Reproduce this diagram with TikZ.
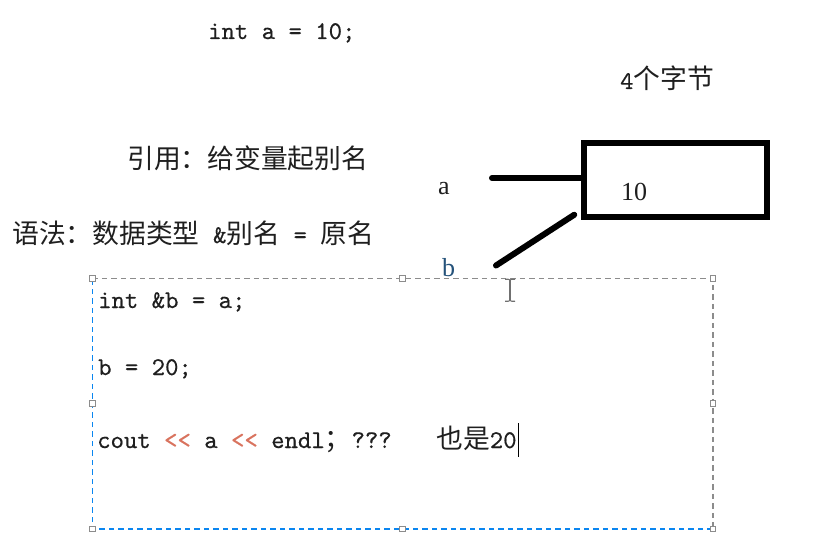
\documentclass[tikz,border=0pt]{standalone}
\usepackage{fontspec}
\usetikzlibrary{calc}
\newfontfamily\cjk{Noto Sans CJK SC}
\newfontfamily\codefont{lmmono10-regular.otf}[FakeBold=0.4]
\newfontfamily\labfont{Liberation Serif}
\newcommand\zh[1]{{\cjk\fontsize{26.8}{30}\selectfont #1}}
\definecolor{txt}{HTML}{1F1F1F}
\definecolor{arrowc}{HTML}{D9735E}
\definecolor{selgray}{HTML}{8C8C8C}
\definecolor{selblue}{HTML}{0A86F0}
\definecolor{lbl}{HTML}{24527A}
\begin{document}
\begin{tikzpicture}[x=1pt,y=-1pt,
  code/.style={anchor=base west,inner sep=0,text=txt,font=\codefont\fontsize{25.5}{30}\selectfont},
  lab/.style={anchor=base west,inner sep=0,text=txt,font=\labfont\fontsize{26}{30}\selectfont},
  thickline/.style={line width=6pt,line cap=round},
  handle/.style={draw=selgray,fill=white,line width=0.9pt,minimum size=5.5pt,inner sep=0pt,rectangle},
  seledge/.style={dash pattern=on 5.5pt off 4pt,line width=1.6pt}
]
\useasboundingbox (0,0) rectangle (823,551);
\fill[white] (0,0) rectangle (823,551);

% top texts
\node[code] (decl) at (208,39) {int a = 10;};
\node[code] (bytes) at (620,89) {4\zh{个字节}};
\node[code] (def) at (127,168) {\zh{引用：给变量起别名}};
\node[code] (syn) at (12,243) {\zh{语法：数据类型} \&\zh{别名} = \zh{原名}};

% memory box
\node[draw=black,line width=5.5pt,minimum width=183pt,minimum height=74pt,inner sep=0pt] (mem) at (675.5,180) {};
\node[lab] (ten) at (621,200) {10};
\node[lab] (la) at (438,194) {a};
\node[lab,text=lbl] (lb) at (442,276) {b};

\coordinate (astart) at (492,178);
\draw[thickline] (astart) -- (astart -| mem.west);
\coordinate (bstart) at (496,265.5);
\draw[thickline] (bstart) -- ($(mem.south west)+(-7,-5)$);

% selection frame
\node[inner sep=0pt,minimum width=620pt,minimum height=250pt] (sel) at (402.5,403.5) {};
\draw[seledge,selgray] (sel.north west) -- (sel.north east) -- (sel.south east);
\draw[seledge,selblue] (sel.south east) -- (sel.south west) -- (sel.north west);
\foreach \a [count=\i] in {north west,north,north east,west,east,south west,south,south east}
  \node[handle] (h\i) at (sel.\a) {};

% code lines
\node[code] (l1) at (98,308) {int \&b = a;};
\node[code] (l2) at (98,375) {b = 20;};
\node[code] (l3) at (97,448) {cout \textcolor{arrowc}{<\kern0pt<} a \textcolor{arrowc}{<\kern0pt<} endl\zh{；}???};
\node[code] (l3b) at (436,448) {\zh{也是}20};

% text caret
\coordinate (caret) at (518.5,423);
\draw[line width=1.3pt,black] (caret) -- ++(0,34);

% mouse I-beam
\coordinate (ibeam) at (510,280);
\draw[selgray!80!black,line width=1.2pt] (ibeam) -- ++(0,20.5);
\draw[selgray!80!black,line width=1.1pt] ($(ibeam)+(-5,-0.8)$) .. controls ($(ibeam)+(-1.5,-0.8)$) .. (ibeam) .. controls ($(ibeam)+(1.5,-0.8)$) .. ($(ibeam)+(5,-0.8)$);
\draw[selgray!80!black,line width=1.1pt] ($(ibeam)+(-5,21.3)$) .. controls ($(ibeam)+(-1.5,21.3)$) .. ($(ibeam)+(0,20.5)$) .. controls ($(ibeam)+(1.5,21.3)$) .. ($(ibeam)+(5,21.3)$);
\end{tikzpicture}
\end{document}
